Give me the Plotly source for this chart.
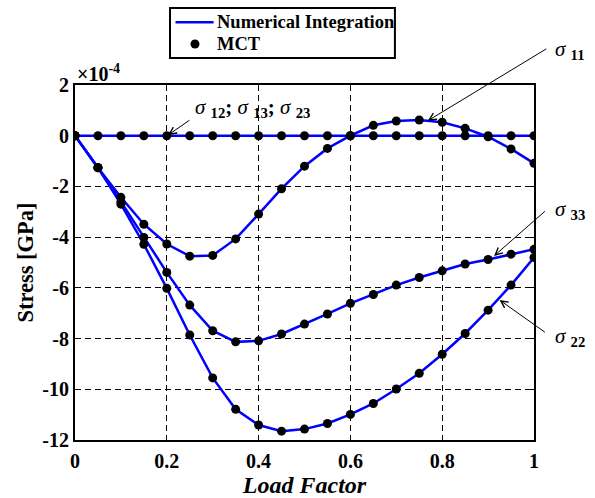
import plotly.graph_objects as go

# Load factor steps
load_factor = [0.00, 0.05, 0.10, 0.15, 0.20, 0.25, 0.30, 0.35, 0.40, 0.45, 0.50,
               0.55, 0.60, 0.65, 0.70, 0.75, 0.80, 0.85, 0.90, 0.95, 1.00]

# Stress components, in units of 1e-4 GPa
sigma_11 = [0.00, -1.26, -2.43, -3.49, -4.27, -4.75, -4.72, -4.07, -3.09, -2.09, -1.20,
            -0.50, 0.00, 0.41, 0.58, 0.62, 0.53, 0.29, -0.04, -0.52, -1.09]
sigma_22 = [0.00, -1.26, -2.70, -4.28, -6.02, -7.86, -9.55, -10.79, -11.41, -11.65, -11.57,
            -11.35, -10.99, -10.56, -9.99, -9.37, -8.62, -7.80, -6.88, -5.89, -4.80]
sigma_33 = [0.00, -1.26, -2.60, -4.01, -5.39, -6.68, -7.69, -8.13, -8.09, -7.82, -7.43,
            -7.03, -6.61, -6.26, -5.89, -5.59, -5.33, -5.06, -4.88, -4.67, -4.48]
sigma_shear = [0.0] * 21

x_ticks = [0, 0.2, 0.4, 0.6, 0.8, 1.0]
x_tick_labels = ["0", "0.2", "0.4", "0.6", "0.8", "1"]
y_ticks = [-12, -10, -8, -6, -4, -2, 0, 2]
y_tick_labels = ["-12", "-10", "-8", "-6", "-4", "-2", "0", "2"]

FONT = "Liberation Serif"
BLUE = "rgb(0,0,255)"

series = [sigma_shear, sigma_11, sigma_33, sigma_22]

fig = go.Figure()

for s in series:
    fig.add_trace(go.Scatter(
        x=load_factor, y=s, mode="lines",
        line=dict(color=BLUE, width=2.5),
        name="Numerical Integration", showlegend=False,
    ))

for s in series:
    fig.add_trace(go.Scatter(
        x=load_factor, y=s, mode="markers",
        marker=dict(color="black", size=9),
        name="MCT", showlegend=False,
    ))

axis_common = dict(
    showline=True, linecolor="black", linewidth=2, mirror="ticks",
    ticks="inside", ticklen=5, tickwidth=1, tickcolor="black",
    showgrid=True, gridcolor="black", gridwidth=1, griddash="6px,4px",
    zeroline=False, automargin=False,
    tickfont=dict(family=FONT, size=20, color="black", weight="bold"),
)

fig.update_xaxes(
    range=[0, 1], tickvals=x_ticks,
    ticktext=[f"<b>{t}</b>" for t in x_tick_labels],
    ticklabelstandoff=2,
    title=dict(text="<b><i>Load Factor</i></b>",
               font=dict(family=FONT, size=24, color="black"), standoff=0),
    **axis_common,
)
fig.update_yaxes(
    range=[-12, 2], tickvals=y_ticks,
    ticktext=[f"<b>{t}</b>" for t in y_tick_labels],
    title=dict(text="<b>Stress [GPa]</b>",
               font=dict(family=FONT, size=22.5, color="black"), standoff=2),
    **axis_common,
)

label_font = dict(family=FONT, size=21, color="black")

annotations = [
    # axis exponent
    dict(text="<b>×10<sup>-4</sup></b>", xref="paper", yref="paper",
         x=0.0, y=1.0, xanchor="left", yanchor="bottom", showarrow=False,
         font=dict(family=FONT, size=20, color="black"), yshift=-2),
    # component labels
    dict(text="<i>σ</i> <sub><b>12</b></sub><b>;</b> <i>σ</i> <sub><b>13</b></sub><b>;</b> <i>σ</i> <sub><b>23</b></sub>",
         x=0.257, y=1.1, xref="x", yref="y", xanchor="left", showarrow=False,
         font=label_font),
    dict(text="<i>σ</i> <sub><b>11</b></sub>", x=1.041, y=1.141, xref="paper", yref="paper",
         xanchor="left", showarrow=False, font=label_font),
    dict(text="<i>σ</i> <sub><b>33</b></sub>", x=1.041, y=0.690, xref="paper", yref="paper",
         xanchor="left", showarrow=False, font=label_font),
    dict(text="<i>σ</i> <sub><b>22</b></sub>", x=1.041, y=0.248, xref="paper", yref="paper",
         xanchor="left", showarrow=False, font=label_font),
    # legend entries
    dict(text="<b>Numerical Integration</b>", x=0.304, y=1.177, xref="paper", yref="paper",
         xanchor="left", yanchor="middle", showarrow=False,
         font=dict(family=FONT, size=18.5, color="black")),
    dict(text="<b>MCT</b>", x=0.304, y=1.1155, xref="paper", yref="paper",
         xanchor="left", yanchor="middle", showarrow=False,
         font=dict(family=FONT, size=18.5, color="black")),
]

# pointer arrows: (head_x, head_y, tail_x, tail_y)
arrows = [
    (0.203, 0.03, 0.2526, 0.65),
    (0.7686, 0.59, 1.030, 3.46),
    (0.913, -4.74, 1.027, -2.93),
    (0.925, -6.48, 1.027, -7.79),
]
for hx, hy, tx, ty in arrows:
    annotations.append(dict(
        text="", x=hx, y=hy, xref="x", yref="y",
        ax=tx, ay=ty, axref="x", ayref="y",
        showarrow=True, arrowhead=5, arrowsize=1.4, arrowwidth=1,
        arrowcolor="black",
    ))

shapes = [
    # legend frame
    dict(type="rect", xref="paper", yref="paper", x0=0.207, x1=0.697, y0=1.076, y1=1.217,
         line=dict(color="black", width=2), fillcolor="white", layer="above"),
    # legend line sample
    dict(type="line", xref="paper", yref="paper", x0=0.219, x1=0.302, y0=1.177, y1=1.177,
         line=dict(color=BLUE, width=2.5), layer="above"),
    # legend marker sample
    dict(type="circle", xref="paper", yref="paper", xsizemode="pixel", ysizemode="pixel",
         xanchor=0.2614, yanchor=1.1155, x0=-4.5, x1=4.5, y0=-4.5, y1=4.5,
         line=dict(color="black", width=0), fillcolor="black", layer="above"),
]

fig.update_layout(
    width=595, height=498,
    margin=dict(l=75, r=61, t=85, b=58),
    paper_bgcolor="white", plot_bgcolor="white",
    font=dict(family=FONT, color="black"),
    showlegend=False,
    annotations=annotations,
    shapes=shapes,
)

fig.write_html("out.html")
